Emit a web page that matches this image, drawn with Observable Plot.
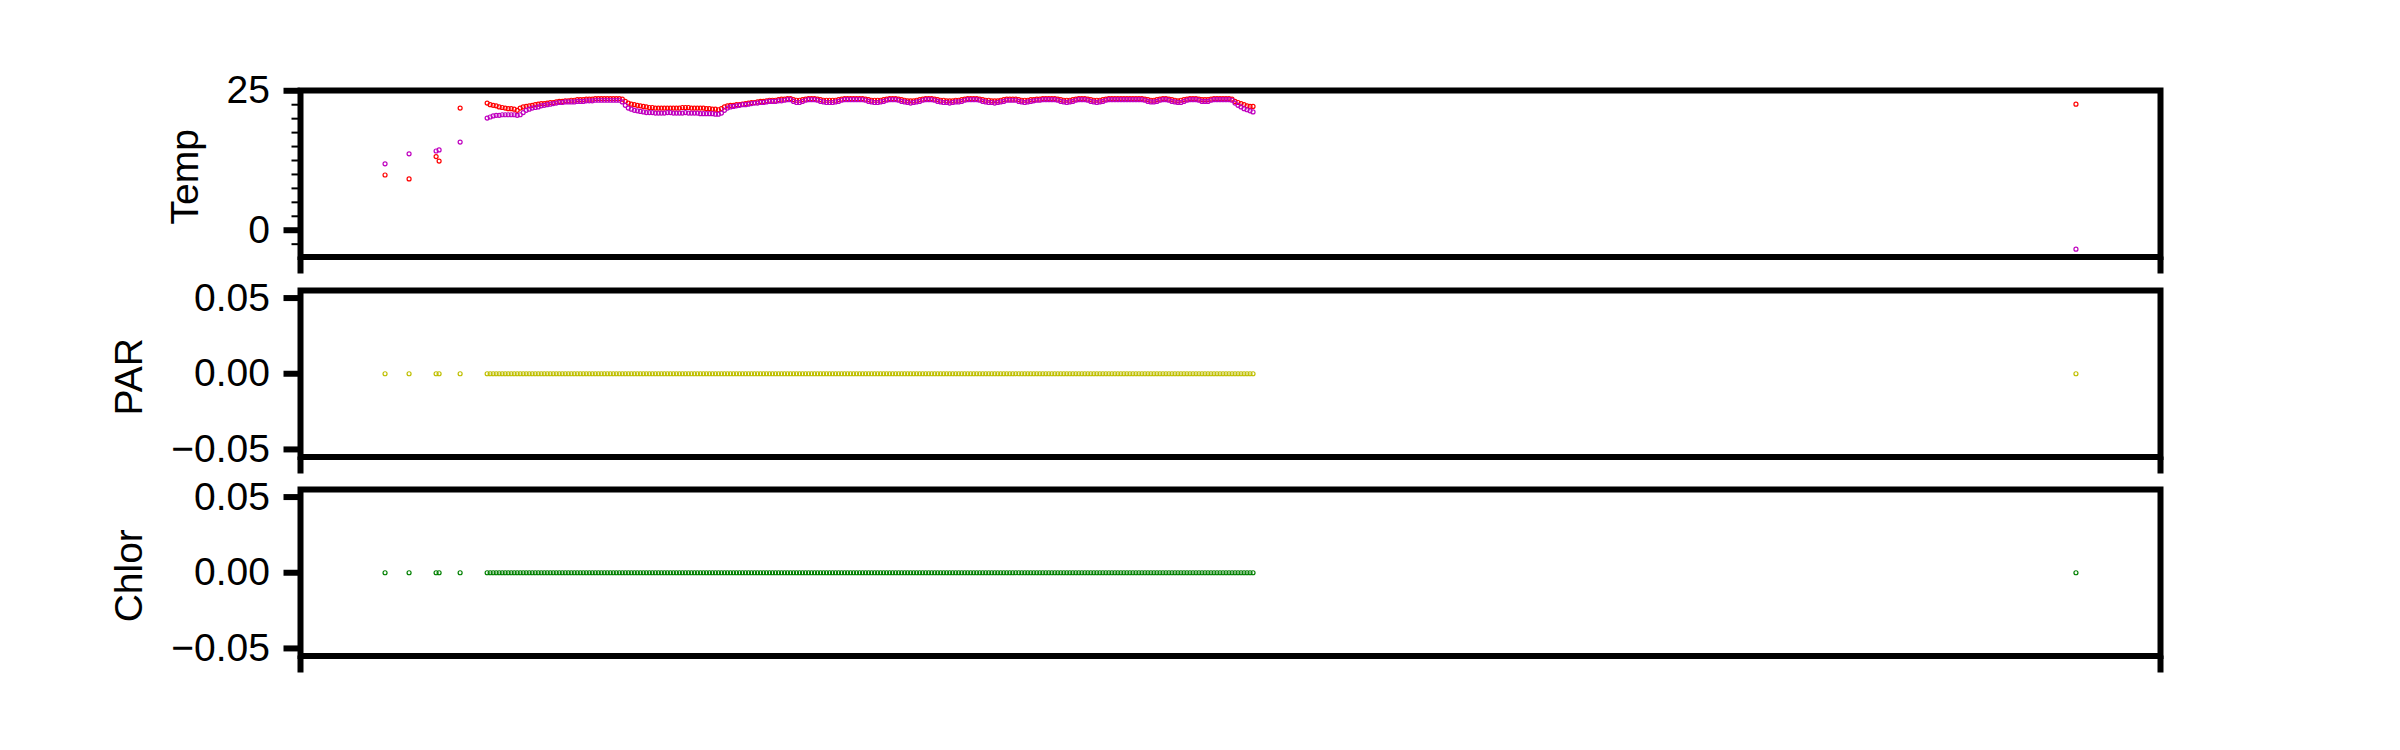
<!DOCTYPE html>
<html>
<head>
<meta charset="utf-8">
<script src="https://cdn.jsdelivr.net/npm/d3@7"></script>
<script src="https://cdn.jsdelivr.net/npm/@observablehq/plot@0.6"></script>
<style>
  html, body { margin: 0; padding: 0; background: #ffffff; }
  #chart { position: relative; width: 2400px; height: 750px; overflow: hidden; background: #ffffff; }
  #chart svg { position: absolute; left: 0; overflow: visible; }
</style>
</head>
<body>
<div id="chart"></div>
<script>
// ---------------- data ----------------
// sampling time, hours since the first record
const hours = [
  0, 8, 17, 18, 25,
  34, 35, 36, 37, 38, 39, 40, 41, 42, 43,
  44, 45, 46, 47, 48, 49, 50, 51, 52, 53,
  54, 55, 56, 57, 58, 59, 60, 61, 62, 63,
  64, 65, 66, 67, 68, 69, 70, 71, 72, 73,
  74, 75, 76, 77, 78, 79, 80, 81, 82, 83,
  84, 85, 86, 87, 88, 89, 90, 91, 92, 93,
  94, 95, 96, 97, 98, 99, 100, 101, 102, 103,
  104, 105, 106, 107, 108, 109, 110, 111, 112, 113,
  114, 115, 116, 117, 118, 119, 120, 121, 122, 123,
  124, 125, 126, 127, 128, 129, 130, 131, 132, 133,
  134, 135, 136, 137, 138, 139, 140, 141, 142, 143,
  144, 145, 146, 147, 148, 149, 150, 151, 152, 153,
  154, 155, 156, 157, 158, 159, 160, 161, 162, 163,
  164, 165, 166, 167, 168, 169, 170, 171, 172, 173,
  174, 175, 176, 177, 178, 179, 180, 181, 182, 183,
  184, 185, 186, 187, 188, 189, 190, 191, 192, 193,
  194, 195, 196, 197, 198, 199, 200, 201, 202, 203,
  204, 205, 206, 207, 208, 209, 210, 211, 212, 213,
  214, 215, 216, 217, 218, 219, 220, 221, 222, 223,
  224, 225, 226, 227, 228, 229, 230, 231, 232, 233,
  234, 235, 236, 237, 238, 239, 240, 241, 242, 243,
  244, 245, 246, 247, 248, 249, 250, 251, 252, 253,
  254, 255, 256, 257, 258, 259, 260, 261, 262, 263,
  264, 265, 266, 267, 268, 269, 270, 271, 272, 273,
  274, 275, 276, 277, 278, 279, 280, 281, 282, 283,
  284, 285, 286, 287, 288, 289,
  563
];

// temperature, red series
const tempRed = [
  9.9, 9.2, 13.2, 12.4, 21.9,
  22.8, 22.5, 22.4, 22.3, 22.1, 22.0, 21.9, 21.8, 21.8, 21.7,
  21.5, 21.9, 22.1, 22.2, 22.3, 22.4, 22.5, 22.6, 22.7, 22.7,
  22.8, 22.9, 22.9, 23.0, 23.1, 23.1, 23.2, 23.2, 23.3, 23.3,
  23.4, 23.4, 23.4, 23.5, 23.5, 23.5, 23.6, 23.6, 23.6, 23.6,
  23.6, 23.6, 23.6, 23.6, 23.6, 23.5, 23.1, 22.8, 22.6, 22.5,
  22.4, 22.3, 22.2, 22.1, 22.0, 22.0, 21.9, 21.9, 21.9, 21.9,
  21.9, 21.9, 21.9, 21.9, 21.9, 22.0, 22.0, 22.0, 21.9, 21.9,
  21.9, 21.9, 21.9, 21.8, 21.8, 21.7, 21.7, 21.6, 21.8, 22.1,
  22.3, 22.4, 22.4, 22.5, 22.5, 22.6, 22.7, 22.8, 22.9, 22.9,
  23.0, 23.1, 23.1, 23.2, 23.3, 23.3, 23.3, 23.4, 23.5, 23.5,
  23.6, 23.6, 23.4, 23.3, 23.3, 23.4, 23.5, 23.6, 23.6, 23.6,
  23.5, 23.4, 23.3, 23.3, 23.3, 23.3, 23.3, 23.4, 23.5, 23.6,
  23.6, 23.6, 23.6, 23.6, 23.6, 23.6, 23.5, 23.4, 23.3, 23.3,
  23.3, 23.3, 23.4, 23.5, 23.6, 23.6, 23.6, 23.5, 23.4, 23.3,
  23.2, 23.2, 23.2, 23.3, 23.4, 23.5, 23.6, 23.6, 23.6, 23.5,
  23.4, 23.3, 23.3, 23.2, 23.2, 23.2, 23.3, 23.3, 23.4, 23.5,
  23.6, 23.6, 23.6, 23.6, 23.5, 23.4, 23.3, 23.3, 23.2, 23.2,
  23.2, 23.3, 23.4, 23.5, 23.5, 23.5, 23.5, 23.4, 23.3, 23.3,
  23.3, 23.4, 23.4, 23.5, 23.5, 23.6, 23.6, 23.6, 23.6, 23.6,
  23.5, 23.4, 23.3, 23.3, 23.3, 23.4, 23.5, 23.6, 23.6, 23.6,
  23.5, 23.4, 23.3, 23.3, 23.3, 23.4, 23.5, 23.6, 23.6, 23.6,
  23.6, 23.6, 23.6, 23.6, 23.6, 23.6, 23.6, 23.6, 23.6, 23.5,
  23.4, 23.3, 23.3, 23.4, 23.5, 23.6, 23.6, 23.5, 23.4, 23.3,
  23.2, 23.3, 23.4, 23.5, 23.6, 23.6, 23.6, 23.5, 23.4, 23.4,
  23.4, 23.5, 23.6, 23.6, 23.6, 23.6, 23.6, 23.6, 23.5, 23.1,
  22.9, 22.7, 22.5, 22.3, 22.2, 22.2,
  22.6
];

// temperature, magenta series
const tempMagenta = [
  11.9, 13.7, 14.2, 14.4, 15.8,
  20.1, 20.3, 20.5, 20.6, 20.6, 20.7, 20.7, 20.7, 20.7, 20.7,
  20.6, 20.7, 21.1, 21.5, 21.7, 21.9, 22.0, 22.1, 22.3, 22.4,
  22.5, 22.6, 22.7, 22.8, 22.9, 22.9, 23.0, 23.0, 23.0, 23.0,
  23.1, 23.1, 23.1, 23.2, 23.2, 23.2, 23.3, 23.3, 23.3, 23.3,
  23.3, 23.3, 23.3, 23.3, 23.3, 23.0, 22.4, 21.9, 21.7, 21.5,
  21.4, 21.3, 21.2, 21.1, 21.1, 21.1, 21.0, 21.0, 21.0, 21.0,
  21.1, 21.1, 21.0, 21.0, 21.0, 21.0, 21.1, 21.0, 21.0, 21.0,
  21.0, 20.9, 20.9, 20.9, 20.9, 20.9, 20.8, 20.8, 21.0, 21.5,
  21.9, 22.1, 22.2, 22.3, 22.4, 22.5, 22.5, 22.6, 22.7, 22.8,
  22.8, 22.9, 22.9, 23.0, 23.1, 23.1, 23.1, 23.2, 23.2, 23.3,
  23.4, 23.4, 23.1, 22.9, 22.9, 23.1, 23.3, 23.4, 23.4, 23.4,
  23.3, 23.1, 23.0, 22.9, 22.9, 22.9, 23.0, 23.1, 23.3, 23.4,
  23.4, 23.4, 23.4, 23.4, 23.4, 23.4, 23.3, 23.1, 23.0, 22.9,
  22.9, 23.0, 23.1, 23.3, 23.4, 23.4, 23.4, 23.3, 23.1, 23.0,
  22.9, 22.8, 22.9, 23.0, 23.1, 23.3, 23.4, 23.4, 23.4, 23.3,
  23.1, 23.0, 22.9, 22.9, 22.8, 22.9, 23.0, 23.0, 23.1, 23.3,
  23.4, 23.4, 23.4, 23.4, 23.3, 23.1, 23.0, 22.9, 22.9, 22.8,
  22.9, 23.0, 23.1, 23.3, 23.3, 23.3, 23.3, 23.1, 23.0, 22.9,
  23.0, 23.1, 23.2, 23.3, 23.3, 23.4, 23.4, 23.4, 23.4, 23.4,
  23.3, 23.1, 23.0, 22.9, 23.0, 23.1, 23.3, 23.4, 23.4, 23.4,
  23.3, 23.1, 23.0, 22.9, 23.0, 23.1, 23.3, 23.4, 23.4, 23.4,
  23.4, 23.4, 23.4, 23.4, 23.4, 23.4, 23.4, 23.4, 23.4, 23.3,
  23.1, 23.0, 23.0, 23.1, 23.3, 23.4, 23.4, 23.3, 23.1, 23.0,
  22.9, 22.9, 23.1, 23.3, 23.4, 23.4, 23.4, 23.3, 23.1, 23.1,
  23.1, 23.3, 23.4, 23.4, 23.4, 23.4, 23.4, 23.4, 23.3, 22.8,
  22.4, 22.1, 21.8, 21.6, 21.4, 21.2,
  -3.4
];

// PAR, all records read as 0
const par = [
  0, 0, 0, 0, 0, 0, 0, 0, 0, 0, 0, 0, 0, 0, 0, 0, 0, 0, 0, 0,
  0, 0, 0, 0, 0, 0, 0, 0, 0, 0, 0, 0, 0, 0, 0, 0, 0, 0, 0, 0,
  0, 0, 0, 0, 0, 0, 0, 0, 0, 0, 0, 0, 0, 0, 0, 0, 0, 0, 0, 0,
  0, 0, 0, 0, 0, 0, 0, 0, 0, 0, 0, 0, 0, 0, 0, 0, 0, 0, 0, 0,
  0, 0, 0, 0, 0, 0, 0, 0, 0, 0, 0, 0, 0, 0, 0, 0, 0, 0, 0, 0,
  0, 0, 0, 0, 0, 0, 0, 0, 0, 0, 0, 0, 0, 0, 0, 0, 0, 0, 0, 0,
  0, 0, 0, 0, 0, 0, 0, 0, 0, 0, 0, 0, 0, 0, 0, 0, 0, 0, 0, 0,
  0, 0, 0, 0, 0, 0, 0, 0, 0, 0, 0, 0, 0, 0, 0, 0, 0, 0, 0, 0,
  0, 0, 0, 0, 0, 0, 0, 0, 0, 0, 0, 0, 0, 0, 0, 0, 0, 0, 0, 0,
  0, 0, 0, 0, 0, 0, 0, 0, 0, 0, 0, 0, 0, 0, 0, 0, 0, 0, 0, 0,
  0, 0, 0, 0, 0, 0, 0, 0, 0, 0, 0, 0, 0, 0, 0, 0, 0, 0, 0, 0,
  0, 0, 0, 0, 0, 0, 0, 0, 0, 0, 0, 0, 0, 0, 0, 0, 0, 0, 0, 0,
  0, 0, 0, 0, 0, 0, 0, 0, 0, 0, 0, 0, 0, 0, 0, 0, 0, 0, 0, 0,
  0, 0
];

// Chlorophyll, all records read as 0
const chlor = [
  0, 0, 0, 0, 0, 0, 0, 0, 0, 0, 0, 0, 0, 0, 0, 0, 0, 0, 0, 0,
  0, 0, 0, 0, 0, 0, 0, 0, 0, 0, 0, 0, 0, 0, 0, 0, 0, 0, 0, 0,
  0, 0, 0, 0, 0, 0, 0, 0, 0, 0, 0, 0, 0, 0, 0, 0, 0, 0, 0, 0,
  0, 0, 0, 0, 0, 0, 0, 0, 0, 0, 0, 0, 0, 0, 0, 0, 0, 0, 0, 0,
  0, 0, 0, 0, 0, 0, 0, 0, 0, 0, 0, 0, 0, 0, 0, 0, 0, 0, 0, 0,
  0, 0, 0, 0, 0, 0, 0, 0, 0, 0, 0, 0, 0, 0, 0, 0, 0, 0, 0, 0,
  0, 0, 0, 0, 0, 0, 0, 0, 0, 0, 0, 0, 0, 0, 0, 0, 0, 0, 0, 0,
  0, 0, 0, 0, 0, 0, 0, 0, 0, 0, 0, 0, 0, 0, 0, 0, 0, 0, 0, 0,
  0, 0, 0, 0, 0, 0, 0, 0, 0, 0, 0, 0, 0, 0, 0, 0, 0, 0, 0, 0,
  0, 0, 0, 0, 0, 0, 0, 0, 0, 0, 0, 0, 0, 0, 0, 0, 0, 0, 0, 0,
  0, 0, 0, 0, 0, 0, 0, 0, 0, 0, 0, 0, 0, 0, 0, 0, 0, 0, 0, 0,
  0, 0, 0, 0, 0, 0, 0, 0, 0, 0, 0, 0, 0, 0, 0, 0, 0, 0, 0, 0,
  0, 0, 0, 0, 0, 0, 0, 0, 0, 0, 0, 0, 0, 0, 0, 0, 0, 0, 0, 0,
  0, 0
];

// axis labels and tick values
const panelLabels = ["Temp", "PAR", "Chlor"];
const tempTicks = [0, 25];
const tempMinorTicks = [-2.5, 2.5, 5, 7.5, 10, 12.5, 15, 17.5, 20, 22.5];
const flatTicks = [-0.05, 0, 0.05];

// ---------------- layout & style ----------------
const FONT = '"Liberation Sans", Arial, Helvetica, sans-serif';
const W = 2400;
const FRAME_LEFT = 300, FRAME_RIGHT = 2160;
const PANEL_H = 166.5;
const PAD_T = 60, PAD_B = 40;
const FS = 39;

const xExtent = d3.extent(hours);
const xPad = (xExtent[1] - xExtent[0]) * 0.05;
const xDomain = [xExtent[0] - xPad, xExtent[1] + xPad];

const rows = (values) => hours.map((h, i) => ({h, v: values[i]}));

function makePanel({top, yDomain, ticks, format, minor, label, labelX, series}) {
  const marks = [];
  for (const s of series) {
    marks.push(Plot.dot(rows(s.values), {
      x: "h", y: "v", r: 2, fill: "none", stroke: s.color, strokeWidth: 1.2
    }));
  }
  if (minor) {
    marks.push(Plot.axisY(minor, {
      anchor: "left", tickSize: 8.5, strokeWidth: 2, stroke: "black",
      tickFormat: () => "", label: null
    }));
  }
  marks.push(Plot.axisY(ticks, {
    anchor: "left", tickSize: 16.5, tickPadding: 14, strokeWidth: 6, stroke: "black",
    tickFormat: format, fontSize: FS, fill: "black", label: null
  }));
  marks.push(Plot.axisX(xDomain, {
    anchor: "bottom", tickSize: 17, strokeWidth: 6, stroke: "black",
    tickFormat: () => "", label: null
  }));
  marks.push(Plot.frame({stroke: "black", strokeWidth: 6}));
  marks.push(Plot.text([label], {
    text: d => d, frameAnchor: "left", textAnchor: "middle", rotate: -90, lineAnchor: "bottom",
    dx: labelX - FRAME_LEFT, dy: 3, fontSize: FS, fill: "black"
  }));

  const svg = Plot.plot({
    width: W,
    height: PAD_T + PANEL_H + PAD_B,
    marginLeft: FRAME_LEFT,
    marginRight: W - FRAME_RIGHT,
    marginTop: PAD_T,
    marginBottom: PAD_B,
    x: {domain: xDomain},
    y: {domain: yDomain},
    style: {fontFamily: FONT, fontSize: FS + "px", color: "black", background: "transparent", overflow: "visible"},
    marks
  });
  svg.style.top = (top - PAD_T) + "px";
  document.getElementById("chart").appendChild(svg);
}

const fmtInt = d3.format("d");
const fmt2 = d3.format(".2f");

makePanel({
  top: 90, yDomain: [-4.8, 25.05], ticks: tempTicks, format: fmtInt, minor: tempMinorTicks,
  label: panelLabels[0], labelX: 197,
  series: [{values: tempRed, color: "#ff0000"}, {values: tempMagenta, color: "#bf00bf"}]
});
makePanel({
  top: 289.5, yDomain: [-0.055, 0.055], ticks: flatTicks, format: fmt2, minor: null,
  label: panelLabels[1], labelX: 141,
  series: [{values: par, color: "#bfbf00"}]
});
makePanel({
  top: 489, yDomain: [-0.055, 0.055], ticks: flatTicks, format: fmt2, minor: null,
  label: panelLabels[2], labelX: 141,
  series: [{values: chlor, color: "#008000"}]
});
</script>
</body>
</html>
